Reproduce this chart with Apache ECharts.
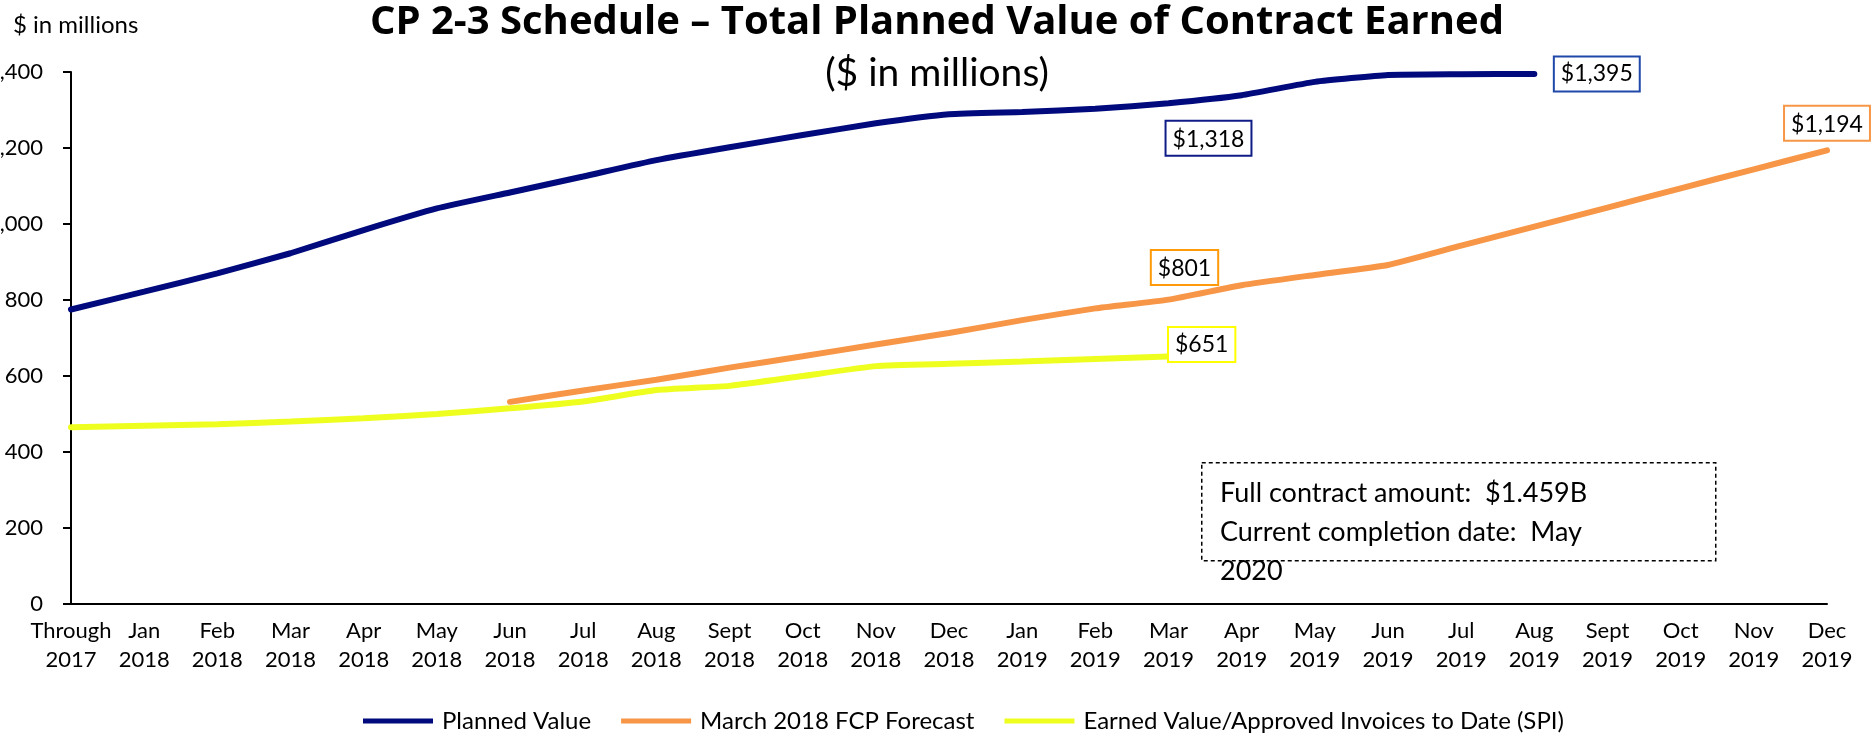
<!DOCTYPE html>
<html>
<head>
<meta charset="utf-8">
<script src="https://cdn.jsdelivr.net/npm/echarts@6/dist/echarts.min.js"></script>
<style>
  html, body { margin: 0; padding: 0; background: #fff; }
  #chart { width: 1874px; height: 742px; }
</style>
</head>
<body>
<div id="chart"></div>
<script>
// Months on the x axis (first point is the cumulative total through 2017)
const categories = [
  'Through\n2017', 'Jan\n2018', 'Feb\n2018', 'Mar\n2018', 'Apr\n2018', 'May\n2018',
  'Jun\n2018', 'Jul\n2018', 'Aug\n2018', 'Sept\n2018', 'Oct\n2018', 'Nov\n2018',
  'Dec\n2018', 'Jan\n2019', 'Feb\n2019', 'Mar\n2019', 'Apr\n2019', 'May\n2019',
  'Jun\n2019', 'Jul\n2019', 'Aug\n2019', 'Sept\n2019', 'Oct\n2019', 'Nov\n2019',
  'Dec\n2019'
];

// Cumulative values, $ in millions
const plannedValue = [775, 822, 870, 923, 984, 1041, 1083, 1125, 1168, 1202, 1234, 1265,
  1289, 1295, 1303, 1318, 1339, 1374, 1392, 1394, 1395];
const fcpForecast = [null, null, null, null, null, null, 532, 562, 590, 622, 652, 683,
  713, 747, 778, 801, 839, 866, 892, 943, 993, 1043, 1094, 1144, 1194];
const earnedValue = [465, 469, 473, 480, 489, 500, 515, 533, 563, 574, 600, 626,
  632, 638, 645, 651];

const yTicks = [0, 200, 400, 600, 800, 1000, 1200, 1400];

const seriesNames = ['Planned Value', 'March 2018 FCP Forecast', 'Earned Value/Approved Invoices to Date (SPI)'];
const seriesColors = ['#000a7c', '#f79646', '#eeff1f'];

// Callout boxes on selected points: [series index, data index, label style]
const callouts = [
  [0, 15, { position: 'bottom', distance: 18, offset: [40, 0], borderColor: '#101c86' }],
  [0, 20, { position: 'right', distance: 20, offset: [0, 0], borderColor: '#1f48a8' }],
  [1, 15, { position: 'top', distance: 15, offset: [16, 0], borderColor: '#ff9a0a' }],
  [1, 24, { position: 'top', distance: 10, offset: [0, 0], borderColor: '#f79646' }],
  [2, 15, { position: 'right', distance: 0, offset: [0, -12], borderColor: '#ffff00' }]
];

const money = v => '$' + Number(v).toLocaleString('en-US');

function buildData(values, sIdx) {
  return values.map((v, i) => {
    const c = callouts.find(k => k[0] === sIdx && k[1] === i);
    if (!c || v == null) return v;
    return {
      value: v,
      symbol: 'circle',
      symbolSize: 1,
      label: Object.assign({
        show: true,
        formatter: p => money(p.value),
        color: '#000',
        fontFamily: 'Lato',
        fontSize: 23,
        backgroundColor: '#fff',
        borderWidth: 2,
        padding: [6, 6, 4, 6]
      }, c[2])
    };
  });
}

const FONT = 'Lato';
const chart = echarts.init(document.getElementById('chart'), null, { renderer: 'canvas' });

const makeSeries = (values, idx) => ({
  name: seriesNames[idx],
  type: 'line',
  data: buildData(values, idx),
  symbol: 'none',
  showSymbol: true,
  showAllSymbol: true,
  smooth: 0.15,
  connectNulls: false,
  lineStyle: { color: seriesColors[idx], width: 6, cap: 'round' },
  itemStyle: { color: seriesColors[idx] },
  z: 3 - idx,
  animation: false
});

chart.setOption({
  backgroundColor: '#fff',
  animation: false,
  title: [
    {
      text: 'CP 2-3 Schedule – Total Planned Value of Contract Earned',
      left: 'center', top: -2,
      textStyle: { fontFamily: 'Open Sans', fontWeight: 'bold', fontSize: 40, color: '#000' }
    },
    {
      text: '($ in millions)',
      left: 'center', top: 49,
      textStyle: { fontFamily: FONT, fontWeight: 'normal', fontSize: 39, color: '#000' }
    },
    {
      text: '$ in millions',
      left: 8, top: 8,
      textStyle: { fontFamily: FONT, fontWeight: 'normal', fontSize: 24, color: '#000' }
    }
  ],
  legend: {
    bottom: 4,
    left: 358,
    itemWidth: 70,
    itemHeight: 5,
    itemGap: 30,
    icon: 'rect',
    textStyle: { fontFamily: FONT, fontSize: 24, color: '#000', padding: [0, 0, 0, 4] },
    data: seriesNames
  },
  grid: { left: 71, right: 47, top: 72, bottom: 138, containLabel: false, outerBoundsMode: 'none' },
  xAxis: {
    type: 'category',
    data: categories,
    boundaryGap: false,
    axisLine: { lineStyle: { color: '#000', width: 2 } },
    axisTick: { show: false },
    axisLabel: {
      interval: 0, margin: 12, color: '#000',
      fontFamily: FONT, fontSize: 22, lineHeight: 29
    },
    splitLine: { show: false }
  },
  yAxis: {
    type: 'value',
    min: yTicks[0],
    max: yTicks[yTicks.length - 1],
    interval: yTicks[1] - yTicks[0],
    axisLine: { show: true, lineStyle: { color: '#000', width: 2 } },
    axisTick: { show: true, length: 8, lineStyle: { color: '#000', width: 2 } },
    axisLabel: {
      margin: 28, color: '#000', fontFamily: FONT, fontSize: 22,
      formatter: v => Number(v).toLocaleString('en-US')
    },
    splitLine: { show: false }
  },
  series: [
    makeSeries(plannedValue, 0),
    makeSeries(fcpForecast, 1),
    makeSeries(earnedValue, 2)
  ],
  graphic: [
    {
      type: 'rect',
      left: 1201, top: 462,
      shape: { width: 514, height: 98 },
      style: { fill: '#fff', stroke: '#000', lineWidth: 1.5, lineDash: [4, 3] },
      z: 10
    },
    {
      type: 'text',
      left: 1220, top: 474,
      style: {
        text: 'Full contract amount:  $1.459B\nCurrent completion date:  May\n2020',
        fontFamily: FONT, fontSize: 27, lineHeight: 39, fill: '#000'
      },
      z: 11
    }
  ]
});
</script>
</body>
</html>
